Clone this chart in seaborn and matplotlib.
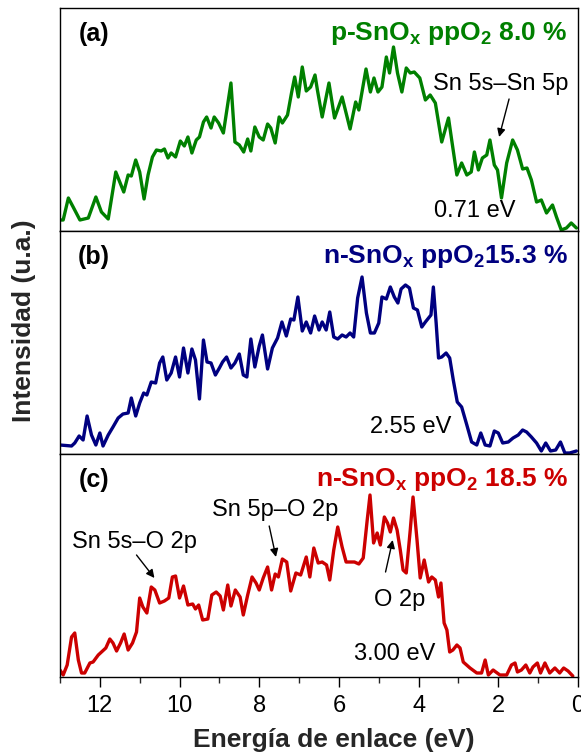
import matplotlib
matplotlib.use("Agg")
import matplotlib.pyplot as plt
import seaborn as sns
import pandas as pd
from matplotlib.ticker import MultipleLocator

# ---------------- data (binding energy in eV, intensity in a.u.) ----------------
energy_a = [13.00, 12.92, 12.79, 12.67, 12.50, 12.29, 12.10, 11.96, 11.79, 11.60, 11.40, 11.29, 11.21,
            11.10, 11.00, 10.89, 10.79, 10.68, 10.58, 10.46, 10.38, 10.29, 10.21, 10.10, 9.98, 9.88,
            9.79, 9.69, 9.58, 9.50, 9.40, 9.32, 9.21, 9.13, 9.02, 8.90, 8.71, 8.61, 8.50, 8.39, 8.29,
            8.21, 8.11, 8.00, 7.90, 7.79, 7.71, 7.60, 7.50, 7.42, 7.29, 7.19, 7.11, 7.02, 6.92, 6.82,
            6.71, 6.60, 6.54, 6.42, 6.25, 6.11, 5.92, 5.72, 5.58, 5.50, 5.32, 5.21, 5.12, 5.02, 4.92,
            4.81, 4.73, 4.63, 4.53, 4.42, 4.31, 4.21, 4.11, 3.97, 3.83, 3.71, 3.58, 3.42, 3.25, 3.17,
            3.04, 2.92, 2.79, 2.68, 2.60, 2.50, 2.40, 2.29, 2.21, 2.10, 2.02, 1.92, 1.79, 1.64, 1.52,
            1.39, 1.28, 1.17, 1.04, 0.92, 0.79, 0.64, 0.54, 0.42, 0.29, 0.17, 0.04]
intensity_a = [11, 11, 33, 24, 11, 13, 34, 19, 12, 59, 39, 56, 55,
               71, 59, 32, 56, 74, 81, 80, 82, 73, 78, 74, 90, 85,
               94, 78, 91, 94, 109, 114, 103, 114, 108, 98, 148, 89, 86, 79, 92,
               80, 104, 94, 91, 107, 103, 88, 114, 108, 116, 138, 154, 134, 164, 140,
               144, 156, 141, 114, 148, 113, 134, 102, 129, 121, 162, 139, 153, 139, 144,
               174, 158, 184, 158, 139, 163, 158, 159, 153, 131, 136, 128, 89, 113, 91,
               56, 68, 56, 59, 79, 61, 73, 76, 91, 66, 61, 33, 68, 91, 81,
               62, 63, 51, 29, 31, 18, 26, 14, 1, 3, 8, 3]

energy_b = [13.00, 12.71, 12.63, 12.52, 12.42, 12.32, 12.21, 12.10, 12.00, 11.92, 11.79, 11.67, 11.54,
            11.42, 11.29, 11.21, 11.10, 11.00, 10.90, 10.82, 10.71, 10.60, 10.50, 10.42, 10.32, 10.21,
            10.10, 10.00, 9.90, 9.79, 9.69, 9.60, 9.50, 9.40, 9.31, 9.21, 9.10, 9.00, 8.92, 8.82, 8.71,
            8.61, 8.50, 8.40, 8.31, 8.21, 8.11, 8.00, 7.92, 7.79, 7.67, 7.54, 7.43, 7.32, 7.21, 7.13,
            7.03, 6.92, 6.82, 6.71, 6.61, 6.50, 6.42, 6.32, 6.23, 6.13, 6.03, 5.92, 5.82, 5.72, 5.63,
            5.53, 5.42, 5.31, 5.21, 5.11, 5.00, 4.92, 4.81, 4.71, 4.61, 4.52, 4.44, 4.33, 4.23, 4.13,
            4.03, 3.92, 3.83, 3.75, 3.69, 3.63, 3.56, 3.50, 3.42, 3.31, 3.22, 3.13, 3.03, 2.92, 2.79,
            2.67, 2.54, 2.44, 2.33, 2.21, 2.10, 2.00, 1.89, 1.75, 1.63, 1.50, 1.39, 1.29, 1.17, 1.04,
            0.92, 0.81, 0.69, 0.56, 0.44, 0.33, 0.21, 0.04]
intensity_b = [9, 8, 11, 18, 14, 38, 19, 9, 21, 8, 19, 27, 36,
               40, 41, 56, 38, 51, 61, 59, 72, 71, 91, 97, 74, 81,
               97, 77, 106, 81, 105, 94, 55, 114, 92, 91, 79, 86, 92, 97, 86,
               91, 100, 79, 77, 115, 87, 108, 119, 85, 106, 116, 132, 118, 135, 134,
               157, 123, 132, 121, 138, 124, 132, 124, 142, 117, 115, 119, 117, 121, 117,
               156, 177, 141, 121, 121, 131, 157, 155, 167, 157, 151, 165, 169, 166, 146,
               144, 127, 132, 136, 139, 167, 131, 96, 97, 101, 96, 74, 52, 47, 29,
               12, 9, 21, 9, 8, 23, 21, 11, 12, 16, 19, 24, 22, 17, 11,
               3, 11, 3, 4, 12, 1, 1, 3]

energy_c = [13.00, 12.92, 12.82, 12.71, 12.63, 12.54, 12.46, 12.38, 12.25, 12.17, 12.04, 11.93, 11.85,
            11.75, 11.67, 11.58, 11.48, 11.39, 11.29, 11.18, 11.08, 11.00, 10.92, 10.82, 10.71, 10.62,
            10.50, 10.38, 10.27, 10.18, 10.10, 10.00, 9.90, 9.79, 9.67, 9.60, 9.52, 9.42, 9.29, 9.19,
            9.08, 8.98, 8.90, 8.79, 8.71, 8.60, 8.48, 8.40, 8.29, 8.18, 8.08, 8.00, 7.90, 7.79, 7.69,
            7.60, 7.52, 7.42, 7.31, 7.21, 7.08, 6.96, 6.82, 6.73, 6.63, 6.52, 6.42, 6.31, 6.23, 6.13,
            6.03, 5.92, 5.82, 5.71, 5.61, 5.50, 5.39, 5.29, 5.22, 5.13, 5.04, 4.96, 4.86, 4.78, 4.71,
            4.63, 4.54, 4.46, 4.39, 4.31, 4.21, 4.14, 4.04, 3.96, 3.86, 3.75, 3.67, 3.58, 3.50, 3.44,
            3.36, 3.29, 3.22, 3.14, 3.04, 2.96, 2.88, 2.71, 2.54, 2.42, 2.33, 2.25, 2.13, 1.96, 1.79,
            1.67, 1.58, 1.52, 1.42, 1.31, 1.21, 1.13, 1.02, 0.94, 0.83, 0.71, 0.58, 0.46, 0.36, 0.25,
            0.13]
intensity_c = [7, 2, 12, 40, 44, 17, 4, 4, 14, 15, 22, 26, 29,
               38, 34, 26, 34, 43, 27, 34, 45, 79, 70, 64, 90, 87,
               74, 76, 79, 100, 101, 79, 91, 72, 73, 68, 72, 57, 58, 82,
               85, 81, 67, 92, 71, 87, 80, 62, 82, 100, 94, 87, 99, 110, 87,
               103, 100, 118, 115, 86, 104, 102, 120, 100, 129, 114, 115, 112, 97, 127,
               150, 130, 115, 115, 115, 113, 119, 157, 182, 134, 144, 132, 160, 154, 145,
               159, 147, 127, 107, 104, 147, 180, 137, 99, 117, 95, 100, 97, 80, 94,
               54, 47, 25, 27, 32, 29, 15, 9, 4, 4, 17, 2, 7, 2, 2,
               12, 14, 5, 7, 12, 4, 10, 14, 4, 14, 4, 9, 4, 9, 6,
               1]

panel_labels = ["(a)", "(b)", "(c)"]
panel_titles = [r"p-SnO$_\mathbf{x}$ ppO$_\mathbf{2}$ 8.0 %",
                r"n-SnO$_\mathbf{x}$ ppO$_\mathbf{2}$15.3 %",
                r"n-SnO$_\mathbf{x}$ ppO$_\mathbf{2}$ 18.5 %"]
gap_labels = ["0.71 eV", "2.55 eV", "3.00 eV"]
colors = ["#008000", "#000080", "#cc0000"]
x_ticks = [12, 10, 8, 6, 4, 2, 0]

# ---------------- style ----------------
sns.set_theme(style="white")
plt.rcParams["font.family"] = ["Liberation Sans", "DejaVu Sans"]
plt.rcParams["mathtext.fontset"] = "custom"
plt.rcParams["mathtext.rm"] = "Liberation Sans"
plt.rcParams["mathtext.bf"] = "Liberation Sans:bold"
plt.rcParams["mathtext.default"] = "bf"

W, H = 581, 753
fig = plt.figure(figsize=(W / 100, H / 100), dpi=100)

left, right = 60 / W, 578 / W
top_px = 8
ph = 223
axes = []
for i in range(3):
    y0 = H - (top_px + ph * (i + 1))
    ax = fig.add_axes([left, y0 / H, right - left, ph / H])
    axes.append(ax)

datasets = [(energy_a, intensity_a), (energy_b, intensity_b), (energy_c, intensity_c)]
for ax, (e, inten), col, lab, title, gap in zip(axes, datasets, colors, panel_labels,
                                                 panel_titles, gap_labels):
    df = pd.DataFrame({"E": e, "I": inten})
    sns.lineplot(data=df, x="E", y="I", ax=ax, color=col, linewidth=2.4, sort=False)
    ax.set_xlim(13, 0)
    ax.set_ylim(0, 223)
    ax.set_yticks([])
    ax.set_xlabel("")
    ax.set_ylabel("")
    for s in ax.spines.values():
        s.set_linewidth(1.0)
        s.set_color("black")
    ax.text(0.066, 0.883, lab, transform=ax.transAxes, ha="center", va="center",
            fontsize=18, fontweight="bold", color="black")
    ax.text(0.981, 0.885, title, transform=ax.transAxes, ha="right", va="center",
            fontsize=19, fontweight="bold", color=col)

for ax in axes[:2]:
    ax.tick_params(axis="x", which="both", bottom=False, labelbottom=False)
    ax.set_xticks([])

axc = axes[2]
axc.set_xticks(x_ticks)
axc.xaxis.set_minor_locator(MultipleLocator(1))
axc.tick_params(axis="x", which="major", direction="out", length=7.2, width=1.0,
                labelsize=17, pad=6, bottom=True, colors="black")
axc.tick_params(axis="x", which="minor", direction="out", length=4.3, width=1.0, bottom=True)

# annotations
ann_kw = dict(fontsize=17, color="black", ha="center", va="center")
arrow = dict(arrowstyle="-|>", color="black", lw=1.0, mutation_scale=12, shrinkA=0, shrinkB=0)

axa, axb = axes[0], axes[1]
axa.text(1.93, 147, "Sn 5s\u2013Sn 5p", **ann_kw)
axa.annotate("", xy=(1.98, 94), xytext=(1.73, 132), arrowprops=arrow)
axa.text(2.58, 20, gap_labels[0], **ann_kw)

axb.text(4.2, 27, gap_labels[1], **ann_kw)

axc.text(11.13, 135, "Sn 5s\u2013O 2p", **ann_kw)
axc.annotate("", xy=(10.63, 99), xytext=(11.08, 122), arrowprops=arrow)
axc.text(7.6, 167, "Sn 5p\u2013O 2p", **ann_kw)
axc.annotate("", xy=(7.58, 120), xytext=(7.75, 151), arrowprops=arrow)
axc.text(4.48, 77, "O 2p", **ann_kw)
axc.annotate("", xy=(4.65, 137), xytext=(4.83, 105), arrowprops=arrow)
axc.text(4.6, 23, gap_labels[2], **ann_kw)

fig.text(334 / W, 1 - 740 / H, "Energ\u00eda de enlace (eV)", ha="center", va="center",
         fontsize=19, fontweight="bold")
fig.text(24 / W, 1 - 321 / H, "Intensidad (u.a.)", ha="center", va="center",
         rotation=90, fontsize=19, fontweight="bold")

fig.savefig("out.png", dpi=100)
